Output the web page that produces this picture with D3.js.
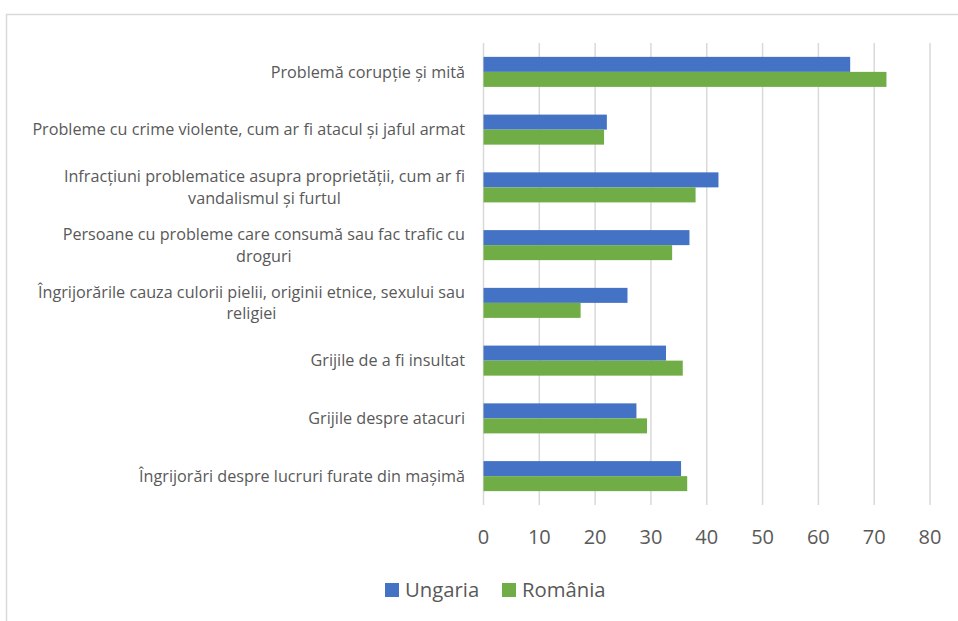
<!DOCTYPE html>
<html>
<head>
<meta charset="utf-8">
<script src="https://cdn.jsdelivr.net/npm/d3@7"></script>
<style>
  body { margin: 0; background: #fff; }
  svg { display: block; }
  text { font-family: "Open Sans", "Noto Sans", sans-serif; }
</style>
</head>
<body>
<svg id="graph"></svg>
<script>
// categories top to bottom, "\n" marks the wrapped line
var categories = [
  "Problemă corupție și mită",
  "Probleme cu crime violente, cum ar fi atacul și jaful armat",
  "Infracțiuni problematice asupra proprietății, cum ar fi\nvandalismul și furtul",
  "Persoane cu probleme care consumă sau fac trafic cu\ndroguri",
  "Îngrijorările cauza culorii pielii, originii etnice, sexului sau\nreligiei",
  "Grijile de a fi insultat",
  "Grijile despre atacuri",
  "Îngrijorări despre lucruri furate din mașimă"
];
var seriesNames = ["Ungaria", "România"];
var ungaria = [65.7, 22.1, 42.1, 36.9, 25.8, 32.7, 27.4, 35.4];
var romania = [72.2, 21.6, 38.0, 33.8, 17.4, 35.7, 29.3, 36.5];
var xTicks = [0, 10, 20, 30, 40, 50, 60, 70, 80];
var colors = ["#4472C4", "#70AD47"];

var width = 958, height = 621;
var svg = d3.select("#graph").attr("width", width).attr("height", height);

// chart frame
svg.append("rect")
  .attr("x", 6.5).attr("y", 14.5)
  .attr("width", 1000).attr("height", 700)
  .attr("fill", "none").attr("stroke", "#d9d9d9").attr("stroke-width", 1.5);

var plotL = 483.5, plotR = 930, plotT = 43, plotB = 505;

var x = d3.scaleLinear().domain([0, 80]).range([plotL, plotR]);
var y0 = d3.scaleBand().domain(categories).range([plotT, plotB])
  .paddingInner(0.48).paddingOuter(0.24);
var y1 = d3.scaleBand().domain(seriesNames).range([0, y0.bandwidth()]);

// gridlines
svg.append("g").selectAll("line")
  .data(xTicks)
  .enter().append("line")
  .attr("x1", d => x(d)).attr("x2", d => x(d))
  .attr("y1", plotT).attr("y2", plotB)
  .attr("stroke", "#d9d9d9").attr("stroke-width", 1.5);

// bars
var rows = categories.map(function (c, i) {
  return { cat: c, vals: [ungaria[i], romania[i]] };
});
var gc = svg.append("g").selectAll("g")
  .data(rows)
  .enter().append("g")
  .attr("transform", d => "translate(0," + y0(d.cat) + ")");

gc.selectAll("rect")
  .data(d => d.vals.map((v, j) => ({ name: seriesNames[j], value: v, j: j })))
  .enter().append("rect")
  .attr("x", x(0))
  .attr("y", d => y1(d.name))
  .attr("width", d => x(d.value) - x(0))
  .attr("height", y1.bandwidth())
  .attr("fill", d => colors[d.j]);

// x tick labels
svg.append("g").selectAll("text")
  .data(xTicks)
  .enter().append("text")
  .attr("x", d => x(d))
  .attr("y", 537)
  .attr("dy", "0.35em")
  .attr("text-anchor", "middle")
  .attr("font-size", 20)
  .attr("fill", "#595959")
  .text(d => d);

// category labels (wrapped lines are centred on each other, block right-aligned)
var labelRight = 465, lineH = 21.5;
categories.forEach(function (c) {
  var lines = c.split("\n");
  var cy = y0(c) + y0.bandwidth() / 2;
  var g = svg.append("g");
  var texts = lines.map(function (ln, k) {
    return g.append("text")
      .attr("y", cy + (k - (lines.length - 1) / 2) * lineH)
      .attr("dy", "0.35em")
      .attr("font-size", 16.2)
      .attr("fill", "#595959")
      .attr("text-anchor", "middle")
      .text(ln);
  });
  var widths = texts.map(t => t.node().getComputedTextLength());
  var maxW = d3.max(widths);
  texts.forEach(t => t.attr("x", labelRight - maxW / 2));
});

// legend
var legend = svg.append("g");
var lx = [385, 502];
seriesNames.forEach(function (s, i) {
  legend.append("rect")
    .attr("x", lx[i]).attr("y", 583)
    .attr("width", 14).attr("height", 14)
    .attr("fill", colors[i]);
  legend.append("text")
    .attr("x", lx[i] + 20).attr("y", 590)
    .attr("dy", "0.35em")
    .attr("font-size", 20.3)
    .attr("fill", "#595959")
    .text(s);
});
</script>
</body>
</html>
